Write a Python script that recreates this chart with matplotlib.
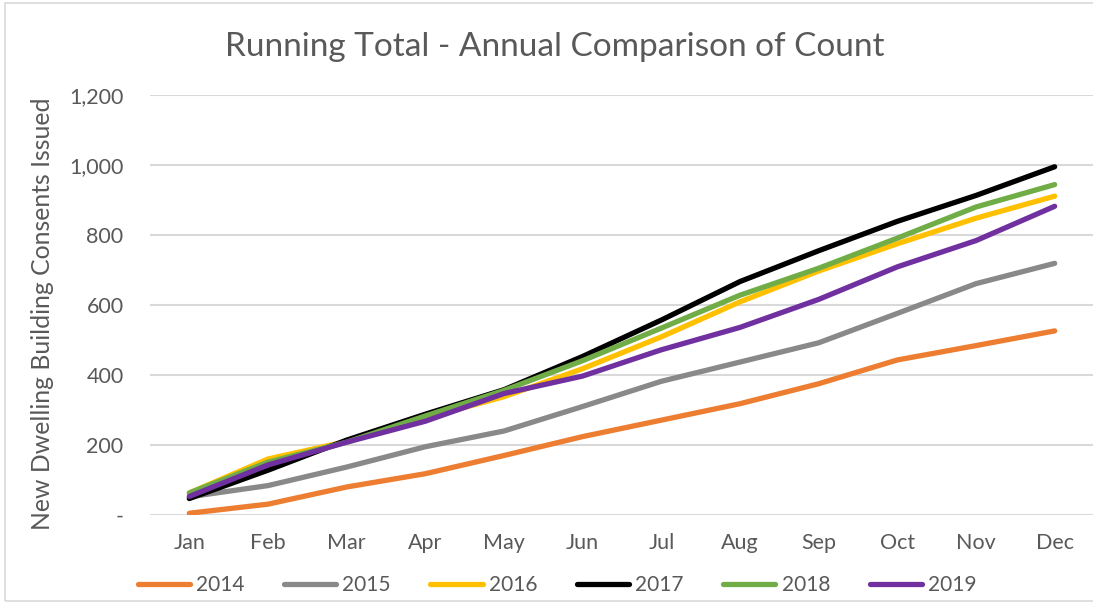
import matplotlib.pyplot as plt
import matplotlib.ticker as ticker
from matplotlib.patches import Rectangle

# ---------------------------------------------------------------------------
# Data (running totals)
# ---------------------------------------------------------------------------
months = ["Jan", "Feb", "Mar", "Apr", "May", "Jun",
          "Jul", "Aug", "Sep", "Oct", "Nov", "Dec"]

y2014 = [5, 31, 80, 118, 170, 224, 271, 318, 375, 443, 484, 526]
y2015 = [52, 84, 137, 195, 240, 310, 382, 437, 492, 576, 661, 719]
y2016 = [63, 160, 210, 277, 338, 418, 509, 609, 697, 775, 848, 911]
y2017 = [47, 128, 214, 288, 358, 453, 557, 667, 755, 839, 913, 995]
y2018 = [63, 151, 208, 283, 356, 441, 534, 628, 705, 791, 880, 944]
y2019 = [53, 143, 208, 268, 347, 397, 472, 536, 616, 709, 784, 882]

years = ["2014", "2015", "2016", "2017", "2018", "2019"]
series = [y2014, y2015, y2016, y2017, y2018, y2019]
colors = ["#ED7D31", "#898989", "#FFC000", "#000000", "#70AD47", "#7030A0"]

TEXT = "#595959"
GRID = "#D9D9D9"
FONT = ["Lato", "DejaVu Sans"]

plt.rcParams["font.family"] = FONT

# ---------------------------------------------------------------------------
# Plot
# ---------------------------------------------------------------------------
fig = plt.figure(figsize=(10.93, 6.04), dpi=100)
ax = fig.add_axes([150 / 1093, 1 - 515 / 604, 944 / 1093, 420 / 604])

x = list(range(len(months)))
for name, vals, c in zip(years, series, colors):
    ax.plot(x, vals, color=c, linewidth=3.8, label=name,
            solid_capstyle="round", solid_joinstyle="round", zorder=3)

ax.set_xlim(-0.5, len(months) - 0.5)
ax.set_ylim(0, 1200)
ax.yaxis.set_major_locator(ticker.MultipleLocator(200))
ax.yaxis.set_major_formatter(
    ticker.FuncFormatter(lambda v, _: "-" if v == 0 else f"{v:,.0f}"))
ax.set_xticks(x)
ax.set_xticklabels(months)

ax.grid(axis="y", color=GRID, linewidth=1.5, zorder=0)
ax.set_axisbelow(True)
for s in ax.spines.values():
    s.set_visible(False)
ax.tick_params(axis="both", length=0, colors=TEXT, labelsize=15.5)
ax.tick_params(axis="y", pad=19)
ax.tick_params(axis="x", pad=13)

ax.set_ylabel("New Dwelling Building Consents Issued", fontsize=17.8,
              color=TEXT, va="center")
ax.yaxis.set_label_coords(-0.114, 0.479)

fig.text(555 / 1093, 1 - 47 / 604, "Running Total - Annual Comparison of Count",
         ha="center", va="center", fontsize=24, color=TEXT)

fig.legend(loc="center", bbox_to_anchor=(557 / 1093, 1 - 585 / 604), ncol=6,
           frameon=False, fontsize=15, handlelength=2.5, handletextpad=0.3,
           columnspacing=1.9, labelcolor=TEXT)

# light chart border
fig.patches.append(Rectangle((5 / 1093, 3 / 604), 1.1, 1 - 6 / 604,
                             transform=fig.transFigure, fill=False,
                             edgecolor="#D9D9D9", linewidth=1.2))

fig.savefig("out.png", dpi=100)
